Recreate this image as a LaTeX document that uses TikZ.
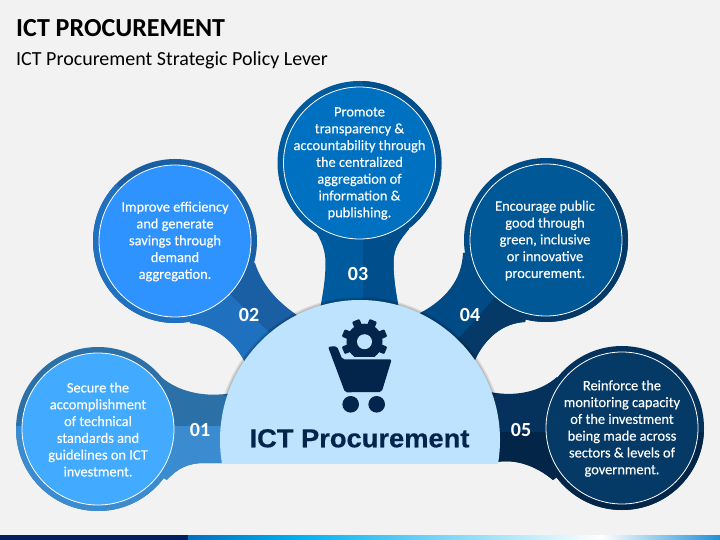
\documentclass[tikz,border=0pt]{standalone}
\usepackage{fontspec}
\setmainfont{Carlito}
\newfontfamily\bodyfont[FakeBold=0.2]{Carlito}
\newfontfamily\headfont[BoldFeatures={FakeStretch=1.05,FakeBold=0.5}]{Liberation Sans}
\usetikzlibrary{positioning,calc}

\definecolor{pageback}{HTML}{F2F2F2}
\definecolor{navy}{HTML}{03254C}
\definecolor{hubblue}{HTML}{BDE3FF}

% Necks of the five petals
\newcommand{\neckone}{(98,429) -- (157,373) .. controls (175,392) and (205,398) .. (232,393) -- (300,440) -- (300,463) -- (205,463) .. controls (188,463) and (178,468) .. (166.7,480) -- cycle}
\newcommand{\necktwo}{(175,241) -- (190,323) .. controls (215,326) and (235,340) .. (248,368) -- (360,440) -- (300,317) .. controls (278,303) and (262,285) .. (255,263) -- cycle}
\newcommand{\neckthree}{(359.5,163) -- (310,223) .. controls (319,235) and (325.5,248) .. (325.5,262) .. controls (325.5,280) and (323,292) .. (320,310) -- (399,310) .. controls (396,292) and (393.5,280) .. (393.5,262) .. controls (393.5,248) and (400,240) .. (409,229) -- cycle}
\newcommand{\neckfour}{(546,240) -- (463,253) .. controls (462,280) and (445,300) .. (420,313) -- (360,440) -- (475,360) .. controls (485,338) and (503,323) .. (525,322) -- cycle}
\newcommand{\neckfive}{(622,428) -- (557,377) .. controls (540,392) and (515,397) .. (490,392) -- (400,420) -- (400,463) -- (497,462) .. controls (515,459) and (535,465) .. (553,480) -- cycle}

\tikzset{
    innerdisc/.style={circle, draw=white, line width=0.8pt, minimum size=152pt, inner sep=0pt},
    disctext/.style={text=white, align=center, inner sep=0pt, font=\fontsize{14.4}{16.8}\selectfont\bodyfont},
    numlabel/.style={text=white, font=\fontsize{20}{20}\selectfont\bfseries},
}

\begin{document}
\begin{tikzpicture}[x=1pt, y=-1pt]
    \useasboundingbox (0,0) rectangle (720,540);
    \fill[pageback] (0,0) rectangle (720,540);

    % Title
    \node[anchor=base west, inner sep=0pt, font=\fontsize{26}{26}\selectfont\bfseries] (title) at (16,36.7) {ICT PROCUREMENT};
    \node[anchor=base west, inner sep=0pt, font=\fontsize{20}{20}\selectfont] (subtitle) at (16,66) {ICT Procurement Strategic Policy Lever};

    % Petal 01
    \fill[color={rgb,255:red,44;green,112;blue,168}] (98,429) circle (82);
    \fill[color={rgb,255:red,44;green,112;blue,168}] \neckone;
    \begin{scope}
        \clip (0,426) rectangle (300,540);
        \fill[color={rgb,255:red,58;green,139;blue,207}] (98,429) circle (82);
        \fill[color={rgb,255:red,58;green,139;blue,207}] \neckone;
    \end{scope}
    \node[innerdisc, fill={rgb,255:red,66;green,170;blue,255}] (secure) at (98,429) {};
    \node[disctext] (securetext) at ($(secure)+(0,0.5)$) {Secure the\\accomplishment\\of technical\\standards and\\guidelines on ICT\\investment.};
    \node[numlabel] (numone) at (200,430) {01};

    % Petal 02
    \fill[color={rgb,255:red,26;green,94;blue,163}] (175,241) circle (82);
    \fill[color={rgb,255:red,26;green,94;blue,163}] \necktwo;
    \begin{scope}
        \clip (-25,46) -- (400,460) -- (-25,460) -- cycle;
        \fill[color={rgb,255:red,32;green,112;blue,192}] (175,241) circle (82);
        \fill[color={rgb,255:red,32;green,112;blue,192}] \necktwo;
    \end{scope}
    \node[innerdisc, fill={rgb,255:red,46;green,147;blue,255}] (improve) at (175,241) {};
    \node[disctext] (improvetext) at ($(improve)+(0,0.5)$) {Improve efficiency\\and generate\\savings through\\demand\\aggregation.};
    \node[numlabel] (numtwo) at (249,315) {02};

    % Petal 03
    \fill[color={rgb,255:red,0;green,90;blue,158}] (359.5,163) circle (82);
    \fill[color={rgb,255:red,0;green,90;blue,158}] \neckthree;
    \begin{scope}
        \clip (363,60) rectangle (460,320);
        \fill[color={rgb,255:red,0;green,78;blue,140}] (359.5,163) circle (82);
        \fill[color={rgb,255:red,0;green,78;blue,140}] \neckthree;
    \end{scope}
    \node[innerdisc, fill={rgb,255:red,0;green,112;blue,192}] (promote) at (359.5,163) {};
    \node[disctext] (promotetext) at ($(promote)+(0,0.5)$) {Promote\\transparency \&\\accountability through\\the centralized\\aggregation of\\information \&\\publishing.};
    \node[numlabel] (numthree) at (358,274) {03};

    % Petal 04
    \fill[color={rgb,255:red,0;green,74;blue,133}] (546,240) circle (82);
    \fill[color={rgb,255:red,0;green,74;blue,133}] \neckfour;
    \begin{scope}
        \clip (640,136) -- (360,448) -- (640,448) -- cycle;
        \fill[color={rgb,255:red,5;green,58;blue,104}] (546,240) circle (82);
        \fill[color={rgb,255:red,5;green,58;blue,104}] \neckfour;
    \end{scope}
    \node[innerdisc, fill={rgb,255:red,0;green,88;blue,150}] (encourage) at (546,240) {};
    \node[disctext] (encouragetext) at ($(encourage)+(-1,0.5)$) {Encourage public\\good through\\green, inclusive\\or innovative\\procurement.};
    \node[numlabel] (numfour) at (470,315) {04};

    % Petal 05
    \fill[color={rgb,255:red,5;green,50;blue,92}] (622,428) circle (82);
    \fill[color={rgb,255:red,5;green,50;blue,92}] \neckfive;
    \begin{scope}
        \clip (400,432) rectangle (720,520);
        \fill[color={rgb,255:red,3;green,38;blue,72}] (622,428) circle (82);
        \fill[color={rgb,255:red,3;green,38;blue,72}] \neckfive;
    \end{scope}
    \node[innerdisc, fill={rgb,255:red,6;green,58;blue,102}] (reinforce) at (622,428) {};
    \node[disctext] (reinforcetext) at ($(reinforce)+(0,0.5)$) {Reinforce the\\monitoring capacity\\of the investment\\being made across\\sectors \& levels of\\government.};
    \node[numlabel] (numfive) at (521,430) {05};

    % Hub with its soft edge
    \begin{scope}
        \clip (200,280) rectangle (520,395);
        \fill[black, opacity=0.10] (360,440) circle (143);
        \fill[black, opacity=0.12] (360,440) circle (141.5);
    \end{scope}
    \begin{scope}
        \clip (200,280) rectangle (520,463);
        \fill[hubblue] (360,440) circle (140);
    \end{scope}
    \node[anchor=base, inner sep=0pt, text=navy, font=\fontsize{26}{26}\selectfont\headfont\bfseries] (hubtext) at (359.5,447.3) {ICT Procurement};

    % Gear
    \begin{scope}
        \clip (330,310) rectangle (400,356.5);
        \fill[navy] (364.5,341.7) circle (18);
        \foreach \a in {22.5,67.5,...,337.5}
            \fill[navy, rotate around={\a:(364.5,341.7)}, rounded corners=1pt] (360.5,330) rectangle (368.5,318.7);
        \fill[hubblue] (364.5,341.7) circle (7.5);
    \end{scope}

    % Cart
    \fill[navy, rounded corners=2pt] (328,346.7) -- (337,346.2) -- (342.3,359.3) -- (391.7,359.3) -- (381.7,392) -- (345,392.3) -- cycle;
    \fill[navy] (350.7,404.3) circle (8.3);
    \fill[navy] (376.7,404.3) circle (8.3);

    % Bottom bar
    \fill[color={rgb,255:red,0;green,32;blue,96}] (0,535) rectangle (188,540);
    \shade[left color={rgb,255:red,0;green,112;blue,192}, right color={rgb,255:red,0;green,176;blue,240}] (188,535) rectangle (298,540);
    \shade[left color={rgb,255:red,0;green,176;blue,240}, right color=white] (298,535) rectangle (601,540);
    \shade[left color=white, right color={rgb,255:red,30;green,144;blue,216}] (601,535) rectangle (720,540);
\end{tikzpicture}
\end{document}
